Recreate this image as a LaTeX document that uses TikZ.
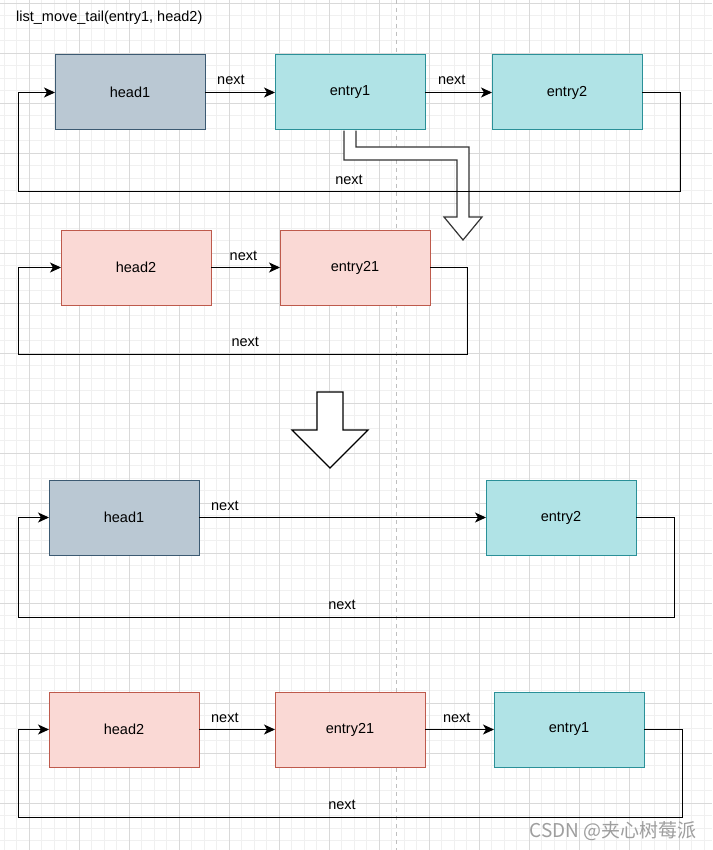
\documentclass[tikz,border=0pt]{standalone}
\usepackage{fontspec}
\setmainfont{Liberation Sans}
\newfontfamily\cjk{Noto Sans CJK SC}
\usetikzlibrary{arrows.meta}

\definecolor{headfill}{HTML}{BAC8D3}
\definecolor{headline}{HTML}{3C5A72}
\definecolor{entryfill}{HTML}{B0E3E6}
\definecolor{entryline}{HTML}{2A9098}
\definecolor{redfill}{HTML}{FAD9D5}
\definecolor{redline}{HTML}{BE5A4C}

\tikzset{
	txt/.style={font=\fontsize{14.5}{17}\selectfont},
	box/.style={txt, draw, line width=1pt, minimum width=150pt, minimum height=75pt, inner sep=0pt, outer sep=0pt},
	headbox/.style={box, fill=headfill, draw=headline},
	entrybox/.style={box, fill=entryfill, draw=entryline},
	redbox/.style={box, fill=redfill, draw=redline},
	link/.style={line width=1pt, -{Stealth[length=11pt, width=10pt, inset=3pt]}},
	lbl/.style={txt, anchor=base, yshift=7.5pt, inner sep=0pt},
	minorgrid/.style={line width=1pt, black!6},
	majorgrid/.style={line width=1pt, black!15},
	bigarrow/.style={line width=1.2pt, fill=white, draw=black!80},
}

\begin{document}
\begin{tikzpicture}[x=1pt, y=-1pt]
	\useasboundingbox (0,0) rectangle (712,850);
	\fill[white] (0,0) rectangle (712,850);
	% grid
	\foreach \k in {0,...,56} \draw[minorgrid] ({4.3+12.5*\k},0) -- ({4.3+12.5*\k},850);
	\foreach \k in {0,...,67} \draw[minorgrid] (0,{3.3+12.5*\k}) -- (712,{3.3+12.5*\k});
	\foreach \k in {0,...,13} \draw[majorgrid] ({29.3+50*\k},0) -- ({29.3+50*\k},850);
	\foreach \k in {0,...,16} \draw[majorgrid] (0,{3.3+50*\k}) -- (712,{3.3+50*\k});
	\draw[black!25, line width=1pt, dash pattern=on 4pt off 4pt] (396,0) -- (396,850);

	\node[txt, anchor=west, inner sep=0pt] (title) at (16,17.5) {list\_move\_tail(entry1, head2)};

	% before
	\node[headbox] (head1) at (130,92.5) {head1};
	\node[entrybox] (entry1) at (350,92.5) {entry1};
	\node[entrybox] (entry2) at (567,92.5) {entry2};
	\draw[link] (head1) to node[lbl, pos=.37] {next} (entry1);
	\draw[link] (entry1) to node[lbl, pos=.40] {next} (entry2);

	\node[redbox] (head2) at (136,267.5) {head2};
	\node[redbox] (entry21) at (355,267.5) {entry21};
	\draw[link] (head2) to node[lbl, pos=.47] {next} (entry21);
	\coordinate (ret2) at (18,354);
	\draw[link] (entry21.east) -- ++(37,0) |- node[lbl, pos=.747] {next} (ret2) |- (head2.west);

	% move entry1
	\draw[bigarrow] (entry1.south) ++(-6,0.6) -- ++(0,29.4) -- ++(113,0) -- ++(0,57) -- ++(-13,0)
		-- ++(19,23) -- ++(19,-23) -- ++(-13,0) -- ++(0,-70) -- ++(-113,0) -- ++(0,-16.4);
	\coordinate (ret1) at (18,192);
	\draw[link] (entry2.east) -- ++(38,0) |- node[lbl, pos=.75] {next} (ret1) |- (head1.west);

	\draw[line width=1.2pt, fill=white] (317,392) -- (343,392) -- (343,430) -- (368,430)
		-- (330,468) -- (292,430) -- (317,430) -- cycle;

	% after
	\node[headbox] (head1b) at (124,517.5) {head1};
	\node[entrybox] (entry2b) at (561,517.5) {entry2};
	\draw[link] (head1b) to node[lbl, pos=.09] {next} (entry2b);
	\coordinate (ret3) at (18,617);
	\draw[link] (entry2b.east) -- ++(38,0) |- node[lbl, pos=.753] {next} (ret3) |- (head1b.west);

	\node[redbox] (head2b) at (124,729.5) {head2};
	\node[redbox] (entry21b) at (350,729.5) {entry21};
	\node[entrybox] (entry1b) at (569,729.5) {entry1};
	\draw[link] (head2b) to node[lbl, pos=.34] {next} (entry21b);
	\draw[link] (entry21b) to node[lbl, pos=.46] {next} (entry1b);
	\coordinate (ret4) at (18,817);
	\draw[link] (entry1b.east) -- ++(38,0) |- node[lbl, pos=.756] {next} (ret4) |- (head2b.west);

	\node[anchor=east, inner sep=0pt, text=black!38, font=\cjk\fontsize{19}{22}\selectfont] (mark) at (697,831) {CSDN @夹心树莓派};
\end{tikzpicture}
\end{document}
